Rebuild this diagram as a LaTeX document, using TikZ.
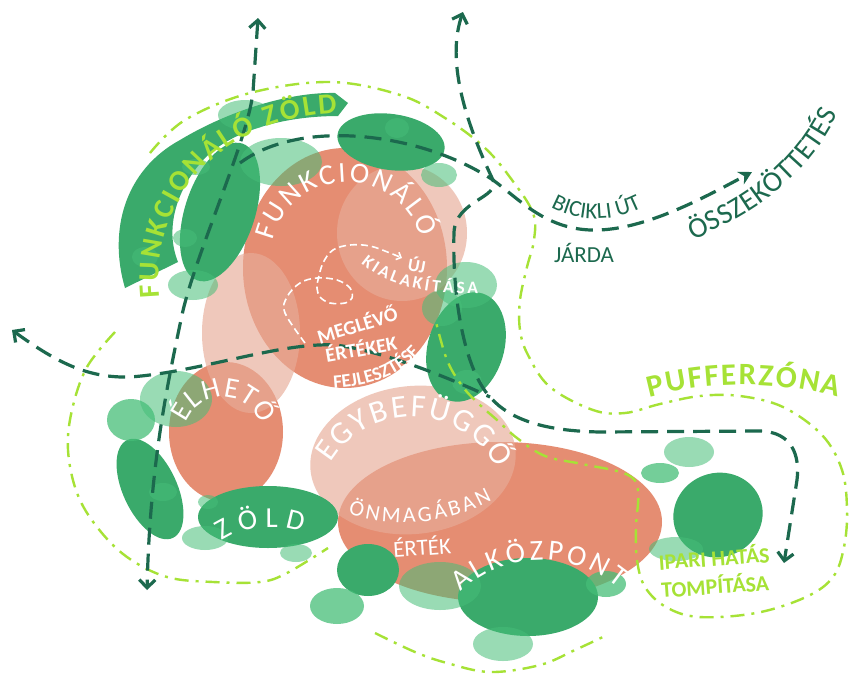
\documentclass[tikz,border=0pt]{standalone}
\usepackage{fontspec}
\setmainfont{Carlito}
\usetikzlibrary{decorations.text,arrows.meta}
\definecolor{salm}{RGB}{229,141,114}
\definecolor{palesalm}{RGB}{232,172,152}
\definecolor{dgr}{RGB}{58,170,107}
\definecolor{lgr}{RGB}{70,190,120}
\definecolor{limec}{RGB}{166,226,54}
\definecolor{dline}{RGB}{28,105,78}
\newcommand\fs[1]{\fontsize{#1}{#1}\selectfont}
% text along a path, set in capitals
\newcommand\ptext[4]{%
  \uppercase{\def\ptxt{#2}}\def\pfmt{#1}%
  \path[decorate, decoration={text along path, text/.expanded={|\noexpand\pfmt|\ptxt}, text align={#3}}] #4;}
% straight label
\newcommand\stext[6]{%
  \node[rotate=#3, font=#4, text=#5, inner sep=0pt] (#1) at #2 {\uppercase{#6}};}
\begin{document}
\begin{tikzpicture}[x=1pt,y=-1pt,
  dk/.style={fill=dgr},
  lt/.style={fill=lgr, fill opacity=0.55},
  md/.style={fill=lgr, fill opacity=0.75},
  sal/.style={fill=salm},
  pal/.style={fill=palesalm, fill opacity=0.66},
  road/.style={draw=dline, line width=3.2pt, dash pattern=on 17pt off 9pt},
  limeln/.style={draw=limec, line width=2.4pt, dash pattern=on 14pt off 7pt on 3pt off 7pt},
  wdash/.style={draw=white, line width=1.6pt, dash pattern=on 7pt off 4pt}]
\useasboundingbox (0,0) rectangle (849,675);
\fill[white] (0,0) rectangle (849,675);

% ---- salmon areas
\fill[sal] (345,268) ellipse[x radius=102, y radius=120];
\fill[sal] (226,432) ellipse[x radius=57, y radius=70];
\fill[sal] (500,522) ellipse[x radius=162, y radius=80];
% ---- pale salmon areas
\fill[pal] (251,333) ellipse[x radius=49, y radius=80];
\fill[pal] (402,233) ellipse[x radius=65, y radius=68];
\fill[pal, rotate around={6:(413,460)}] (413,460) ellipse[x radius=103, y radius=74];

% ---- dark green
\fill[dk] (125,288) .. controls (108,230) and (125,170) .. (180,140) .. controls (230,110) and (290,92) .. (335,93) -- (348,103) -- (338,116) .. controls (290,116) and (235,128) .. (205,158) .. controls (175,190) and (165,230) .. (178,262) -- cycle;
\fill[dk, rotate around={-18:(220,212)}] (220,212) ellipse[x radius=35, y radius=72];
\fill[dk, rotate around={-8:(391,142)}] (391,142) ellipse[x radius=54, y radius=28];
\fill[dk, rotate around={-17:(466,347)}] (466,347) ellipse[x radius=38, y radius=56];
\fill[dk, rotate around={25:(150,489)}] (150,489) ellipse[x radius=27, y radius=54];
\fill[dk] (268,517) ellipse[x radius=70, y radius=31];
\fill[dk] (368,570) ellipse[x radius=31, y radius=26];
\fill[dk] (528,597) ellipse[x radius=70, y radius=39];
\fill[dk, rotate around={20:(718,515)}] (718,515) ellipse[x radius=45, y radius=42];

% ---- light / mid green
\fill[lt] (245,115) ellipse[x radius=27, y radius=15];
\fill[lt] (281,162) ellipse[x radius=41, y radius=24];
\fill[lt] (193,285) ellipse[x radius=25, y radius=15];
\fill[lt] (185,238) ellipse[x radius=12, y radius=9];
\fill[lt] (145,257) ellipse[x radius=13, y radius=10];
\fill[lt] (196,167) ellipse[x radius=14, y radius=8];
\fill[lt] (397,128) ellipse[x radius=12, y radius=10];
\fill[lt] (439,175) ellipse[x radius=18, y radius=12];
\fill[lt] (466,285) ellipse[x radius=31, y radius=23];
\fill[lt] (442,308) ellipse[x radius=20, y radius=18];
\fill[lt] (467,382) ellipse[x radius=15, y radius=12];
\fill[lt] (176,399) ellipse[x radius=36, y radius=28];
\fill[md] (131,420) ellipse[x radius=24, y radius=21];
\fill[lt] (163,492) ellipse[x radius=14, y radius=9];
\fill[lt] (208,502) ellipse[x radius=10, y radius=7];
\fill[lt] (205,538) ellipse[x radius=23, y radius=12];
\fill[lt] (296,553) ellipse[x radius=16, y radius=9];
\fill[md] (337,606) ellipse[x radius=27, y radius=18];
\fill[lt] (440,586) ellipse[x radius=41, y radius=24];
\fill[md] (606,584) ellipse[x radius=20, y radius=13];
\fill[lt] (503,644) ellipse[x radius=30, y radius=17];
\fill[lt] (689,452) ellipse[x radius=25, y radius=15];
\fill[md] (660,473) ellipse[x radius=19, y radius=10];
\fill[lt] (676,549) ellipse[x radius=27, y radius=12];

% ---- white dashed loop
\draw[wdash, -{Straight Barb[length=4pt,width=8pt]}] plot[smooth, tension=0.6] coordinates {(305,343) (285,313) (287,297) (300,283) (317,278) (337,280) (350,288) (352,298) (345,303) (330,303) (320,297) (317,288) (318,280) (323,263) (333,250) (350,245) (370,246) (390,253) (402,258)};

% ---- lime dash-dot zones
\draw[limeln] plot[smooth, tension=0.6] coordinates {(150,153) (185,120) (250,93) (330,82) (400,95) (445,118) (485,148) (512,180) (533,213) (534,240) (527,267) (520,300) (520,330) (528,355) (550,387) (593,410) (625,413) (660,404) (700,396) (740,396) (783,407) (822,435) (842,470) (847,510) (844,547) (833,577) (806,597) (756,613) (699,617) (666,607) (645,587) (637,560) (636,527) (638,490) (626,474) (582,464) (545,456) (517,438) (497,420) (480,405) (463,387) (447,360) (435,318)};
\draw[limeln] plot[smooth, tension=0.6] coordinates {(115,332) (87,367) (72,410) (68,450) (77,493) (97,527) (127,557) (167,577) (213,582) (260,582) (287,573) (328,548)};
\draw[limeln] plot[smooth, tension=0.6] coordinates {(375,633) (415,652) (447,663) (490,672) (540,665) (575,650) (605,636)};

% ---- dark dashed routes
\coordinate (vtop) at (258,18);
\coordinate (vbot) at (147,590);
\coordinate (btop) at (463,12);
\coordinate (bend) at (784,563);
\coordinate (aleft) at (240,163);
\coordinate (aend) at (752,172);
\coordinate (cleft) at (12,330);
\coordinate (cjoin) at (490,397);
\draw[road, {Straight Barb[length=8pt,width=16pt]}-{Straight Barb[length=8pt,width=16pt]}] (vtop) -- (253,92) .. controls (248,140) and (195,255) .. (182,315) .. controls (165,395) and (150,470) .. (vbot);
\draw[road, -{Stealth[length=13pt,width=14pt]}] (aleft) .. controls (300,118) and (420,132) .. (493,180) .. controls (520,200) and (545,228) .. (590,230) .. controls (640,232) and (700,200) .. (aend);
\draw[road, {Straight Barb[length=8pt,width=16pt]}-{Straight Barb[length=8pt,width=16pt]}] (btop) .. controls (450,50) and (455,100) .. (493,180) .. controls (500,198) and (456,200) .. (454,232) .. controls (452,300) and (465,370) .. (cjoin) .. controls (510,420) and (545,431) .. (600,432) -- (760,431) .. controls (792,432) and (800,455) .. (797,480) -- (bend);
\draw[road, {Straight Barb[length=8pt,width=16pt]}-] (cleft) .. controls (60,365) and (90,378) .. (130,377) .. controls (200,372) and (280,342) .. (335,345) .. controls (380,350) and (450,378) .. (cjoin);

% ---- curved labels
\ptext{\fs{29}\bfseries\color{limec}}{funkcionáló zöld}{fit to path}{(160,297) .. controls (150,195) and (225,118) .. (337,113)}
\ptext{\fs{29}\color{white}}{funkcionáló}{fit to path}{(347,258) ++(193:76) arc[start angle=193, end angle=344, radius=76]}
\ptext{\fs{29}\color{white}}{élhető}{fit to path}{(223,437) ++(201:40) arc[start angle=201, end angle=342, radius=40]}
\ptext{\fs{32}\color{white}}{egybefüggő}{fit to path}{(412,512) ++(211:95) arc[start angle=211, end angle=333, radius=95]}
\ptext{\fs{29}\color{white}}{alközpont}{fit to path}{(542,679) ++(227:119) arc[start angle=227, end angle=310, radius=119]}
\ptext{\fs{22}\color{white}}{önmagában}{fit to path}{(348,513) .. controls (385,527) and (440,528) .. (492,500)}
\ptext{\fs{29}\color{white}}{zöld}{fit to path}{(222,541) .. controls (240,528) and (275,522) .. (302,532)}
\ptext{\fs{17.5}\bfseries\color{white}}{kialakítása}{fit to path}{(361,263) .. controls (386,285) and (422,294) .. (478,294)}
\ptext{\fs{19}\bfseries\color{white}}{fejlesztése}{center}{(316,389) .. controls (365,388) and (405,380) .. (431,338)}
\ptext{\fs{31}\bfseries\color{limec}}{pufferzóna}{fit to path}{(743,755) ++(255.3:370) arc[start angle=255.3, end angle=284.9, radius=370]}
\ptext{\fs{29}\color{dline}}{összeköttetés}{fit to path}{(693,240) .. controls (748,216) and (805,182) .. (838,114)}
\ptext{\fs{23}\color{dline}}{bicikli út}{center}{(543,202) .. controls (570,222) and (615,226) .. (650,203)}

% ---- straight labels
\stext{jarda}{(584,253)}{0}{\fs{23}}{dline}{járda}
\stext{uj}{(417,265)}{-10}{\fs{18}\bfseries}{white}{új}
\stext{meg}{(357,324)}{17}{\fs{20}\bfseries}{white}{meglévő}
\stext{ert}{(361,348)}{10}{\fs{20}\bfseries}{white}{értékek}
\stext{ertek}{(422,546)}{4}{\fs{23}}{white}{érték}
\stext{ipari}{(714,557)}{4}{\fs{22}\bfseries}{limec}{ipari hatás}
\stext{tomp}{(715,585)}{4}{\fs{22}\bfseries}{limec}{tompítása}
\end{tikzpicture}
\end{document}
